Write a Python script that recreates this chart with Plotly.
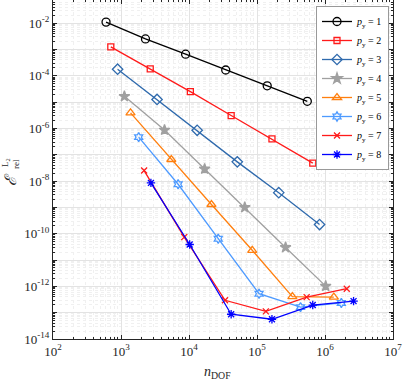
import plotly.graph_objects as go

# log10 of n_DOF and log10 of relative L2 error
logx = {
    1: [2.78, 3.36, 3.95, 4.54, 5.15, 5.74],
    2: [2.85, 3.43, 4.02, 4.62, 5.22, 5.82],
    3: [2.95, 3.53, 4.12, 4.71, 5.32, 5.92],
    4: [3.05, 3.64, 4.23, 4.82, 5.42, 6.01],
    5: [3.14, 3.74, 4.33, 4.93, 5.52, 6.13],
    6: [3.26, 3.84, 4.43, 5.03, 5.64, 6.24],
    7: [3.34, 3.93, 4.53, 5.13, 5.73, 6.32],
    8: [3.44, 4.01, 4.62, 5.22, 5.82, 6.42],
}
logy = {
    1: [-1.96, -2.60, -3.18, -3.78, -4.38, -4.97],
    2: [-2.90, -3.74, -4.60, -5.51, -6.40, -7.32],
    3: [-3.75, -4.90, -6.07, -7.27, -8.44, -9.65],
    4: [-4.78, -6.06, -7.54, -9.00, -10.52, -11.99],
    5: [-5.41, -7.18, -8.89, -10.63, -12.39, -12.41],
    6: [-6.33, -8.12, -10.19, -12.28, -12.79, -12.63],
    7: [-7.60, -10.13, -12.53, -12.95, -12.41, -12.09],
    8: [-8.07, -10.41, -13.06, -13.25, -12.71, -12.56],
}
colors = {1: "#000000", 2: "#ff1a1a", 3: "#2f6aad", 4: "#a0a0a0",
          5: "#ff7f0e", 6: "#4d9aff", 7: "#ff1a1a", 8: "#0000ff"}
symbols = {1: "circle-open", 2: "square-open", 3: "diamond-open", 4: "star",
           5: "triangle-up-open", 6: "hexagram-open", 7: "x-thin-open", 8: "asterisk-open"}
sizes = {1: 8, 2: 6, 3: 8, 4: 8, 5: 8, 6: 7, 7: 6, 8: 7}

x_tickvals = [1e2, 1e3, 1e4, 1e5, 1e6, 1e7]
x_ticktext = ["10<sup>2</sup>", "10<sup>3</sup>", "10<sup>4</sup>", "10<sup>5</sup>",
              "10<sup>6</sup>", "10<sup>7</sup>"]
y_exps = list(range(-14, 0))
y_tickvals = [10.0 ** e for e in y_exps]
y_ticktext = [("10<sup>%d</sup>" % e) if e % 2 == 0 else " " for e in y_exps]

fig = go.Figure()
for p in range(1, 9):
    fig.add_trace(go.Scatter(
        x=[10 ** v for v in logx[p]], y=[10 ** v for v in logy[p]],
        mode="lines+markers", name="<i>p</i><sub>y</sub> = %d" % p,
        line=dict(color=colors[p], width=1.3),
        marker=dict(symbol=symbols[p], size=sizes[p], color=colors[p],
                    line=dict(color=colors[p], width=1.3)),
    ))

W, H = 403, 380
L, R, T, B = 53, 10, 0, 41
pw, ph = W - L - R, H - T - B

def px(xp):
    return (xp - L) / pw

def py(yp):
    return 1 - (yp - T) / ph

axis_common = dict(
    type="log", showline=True, linecolor="#262626", linewidth=1, mirror="ticks",
    ticks="inside", ticklen=4, tickcolor="#262626",
    showgrid=True, gridcolor="#e3e3e3", gridwidth=1, zeroline=False,
    tickfont=dict(family="Liberation Serif", size=13, color="#262626"),
    minor=dict(ticks="inside", ticklen=2, tickcolor="#262626", dtick="D1",
               showgrid=True, gridcolor="#f0f0f0", griddash="dot"),
)
fig.update_xaxes(range=[2, 7], tickvals=x_tickvals, ticktext=x_ticktext, **axis_common)
fig.update_yaxes(range=[-14, -1.12], tickvals=y_tickvals, ticktext=y_ticktext, **axis_common)

fig.update_layout(
    width=W, height=H, margin=dict(l=L, r=R, t=T, b=B, autoexpand=False),
    plot_bgcolor="white", paper_bgcolor="white",
    font=dict(family="Liberation Serif", color="#262626"),
    legend=dict(x=px(389), y=py(6), xanchor="right", yanchor="top",
                bgcolor="white", bordercolor="#999999", borderwidth=1,
                font=dict(family="Liberation Serif", size=10, color="#000000"),
                itemwidth=30, tracegroupgap=0),
    showlegend=True,
)

annots = [
    dict(x=px(217), y=py(372), text="<i>n</i><sub>DOF</sub>", font=dict(size=14)),
    dict(x=px(10), y=py(180), text="<i>ℰ</i>", font=dict(size=16), textangle=-90),
    dict(x=px(5), y=py(163), text="L<sub>2</sub>", font=dict(size=9), textangle=-90),
    dict(x=px(16), y=py(164), text="rel", font=dict(size=9), textangle=-90),
]
for a in annots:
    fig.add_annotation(xref="paper", yref="paper", showarrow=False,
                       xanchor="center", yanchor="middle", **a)

fig.write_html("out.html", config={"displayModeBar": False},
               post_script="document.body.style.margin='0px';document.body.style.padding='0px';")
